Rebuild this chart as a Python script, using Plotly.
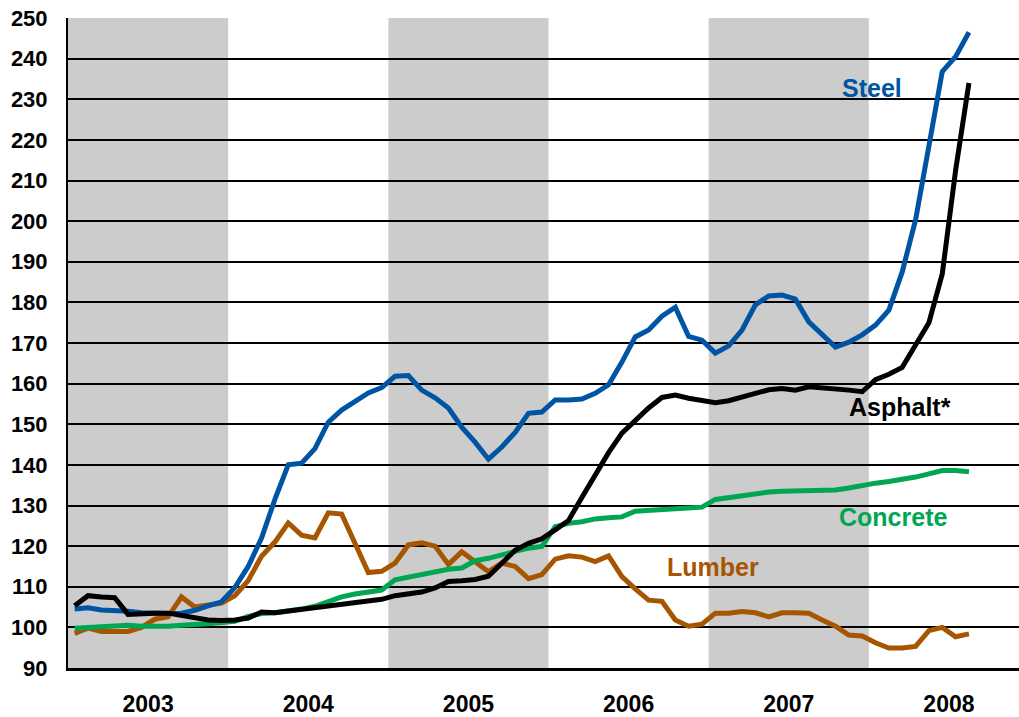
import plotly.graph_objects as go

# Monthly index values, Jan 2003 .. Aug 2008
years = ["2003", "2004", "2005", "2006", "2007", "2008"]
months = list(range(68))

steel = [104.5, 104.8, 104.3, 104.2, 104.0, 103.6, 103.4, 103.4, 103.5, 104.2, 105.3, 106.3,
         109.8, 115.0, 122.0, 131.5, 140.0, 140.4, 144.0, 150.5, 153.5, 155.5, 157.7, 159.0,
         161.8, 162.0, 158.4, 156.5, 154.0, 149.3, 145.6, 141.4, 144.4, 148.0, 152.7, 153.0,
         156.0, 156.0, 156.2, 157.6, 159.7, 165.3, 171.5, 173.2, 176.6, 178.8, 171.6, 170.7,
         167.5, 169.3, 173.2, 179.4, 181.6, 181.8, 180.8, 175.2, 172.0, 169.0, 170.2, 172.0,
         174.4, 178.1, 187.5, 200.3, 218.5, 236.8, 240.5, 246.5]

asphalt = [105.3, 107.8, 107.5, 107.3, 103.2, 103.5, 103.5, 103.5, 103.0, 102.2, 101.8, 101.7,
           101.8, 102.3, 103.8, 103.6, 104.0, 104.5, 105.0, 105.3, 105.8, 106.2, 106.6, 106.9,
           107.8, 108.3, 108.7, 109.7, 111.3, 111.5, 111.8, 112.6, 115.8, 119.0, 120.7, 121.8,
           124.0, 126.3, 132.0, 137.6, 143.0, 147.8, 151.0, 154.0, 156.6, 157.2, 156.4, 155.8,
           155.3, 155.8, 156.6, 157.6, 158.5, 158.8, 158.4, 159.2, 159.0, 158.8, 158.4, 158.0,
           161.0, 162.3, 164.0, 169.5, 175.0, 187.0, 212.5, 234.0]

concrete = [99.8, 100.0, 100.2, 100.4, 100.5, 100.3, 100.2, 100.3, 100.5, 100.6, 100.9, 101.2,
            101.5, 102.7, 103.4, 103.6, 103.9, 104.5, 105.2, 106.3, 107.5, 108.2, 108.8, 109.2,
            111.7, 112.4, 113.2, 113.8, 114.3, 114.6, 116.4, 117.0, 117.7, 118.7, 119.5, 119.9,
            124.8, 125.6, 126.0, 126.7, 127.0, 127.2, 128.6, 128.9, 129.0, 129.2, 129.4, 129.6,
            131.5, 132.0, 132.6, 133.0, 133.3, 133.5, 133.6, 133.7, 133.7, 133.8, 134.3, 135.0,
            135.5, 135.9, 136.3, 137.0, 137.8, 138.6, 138.6, 138.3]

lumber = [98.5, 99.8, 99.0, 99.0, 99.0, 100.0, 102.0, 102.6, 107.5, 105.0, 105.6, 106.0,
          107.8, 111.5, 117.5, 121.0, 125.7, 122.7, 122.0, 128.2, 127.9, 120.7, 113.5, 113.8,
          115.8, 120.3, 120.8, 120.0, 115.5, 118.6, 116.2, 113.7, 115.8, 115.0, 112.0, 113.0,
          116.8, 117.6, 117.3, 116.2, 117.6, 112.5, 109.5, 106.7, 106.4, 101.8, 100.3, 100.8,
          103.5, 103.5, 103.9, 103.6, 102.6, 103.6, 103.6, 103.5, 101.8, 100.3, 98.1, 97.9,
          96.2, 94.9, 94.9, 95.3, 99.2, 100.0, 97.7, 98.4]

shaded_years = [0, 2, 4]  # 2003, 2005, 2007

C_STEEL = "#0054A4"
C_ASPH = "#000000"
C_CONC = "#00A651"
C_LUMB = "#A65500"

x = [m + 0.5 for m in months]

fig = go.Figure()
for name, vals, col in [("Lumber", lumber, C_LUMB), ("Concrete", concrete, C_CONC),
                        ("Steel", steel, C_STEEL), ("Asphalt*", asphalt, C_ASPH)]:
    fig.add_trace(go.Scatter(x=x, y=vals, mode="lines", name=name,
                             line=dict(color=col, width=5), showlegend=False))

for yi in shaded_years:
    fig.add_shape(type="rect", xref="x", yref="paper", x0=yi * 12, x1=yi * 12 + 12,
                  y0=0, y1=1, fillcolor="#CCCCCC", line=dict(width=0), layer="below")

FONT = "Liberation Sans, Arial, sans-serif"
labels = [("Steel", 60.2, 232.8, C_STEEL), ("Asphalt*", 62.3, 154.2, C_ASPH),
          ("Concrete", 61.8, 127.2, C_CONC), ("Lumber", 48.35, 114.9, C_LUMB)]
for txt, lx, ly, col in labels:
    fig.add_annotation(x=lx, y=ly, text="<b>%s</b>" % txt, showarrow=False,
                       font=dict(family=FONT, size=25, color=col))

fig.update_layout(
    width=1019, height=717,
    margin=dict(l=68, r=0, t=18, b=49),
    paper_bgcolor="white", plot_bgcolor="white",
    font=dict(family=FONT, size=22, color="black"),
)
fig.update_xaxes(range=[0, 71.25], tickvals=[6 + 12 * i for i in range(len(years))],
                 ticktext=["<b>%s</b>" % yv for yv in years],
                 showgrid=False, zeroline=False, showline=True, linecolor="black",
                 linewidth=3, ticks="", tickfont=dict(family=FONT, size=23, color="black"),
                 ticklabelstandoff=13, automargin=False)
fig.update_yaxes(range=[90, 250], dtick=10, tick0=90, showgrid=True, gridcolor="black",
                 gridwidth=1.5, zeroline=False, showline=True, linecolor="black",
                 linewidth=2, ticks="", tickfont=dict(family=FONT, size=22, color="black"),
                 ticklabelstandoff=14, automargin=False,
                 tickprefix="<b>", ticksuffix="</b>")

fig.write_html("out.html", config={"displayModeBar": False},
               post_script="document.body.style.margin='0';")
